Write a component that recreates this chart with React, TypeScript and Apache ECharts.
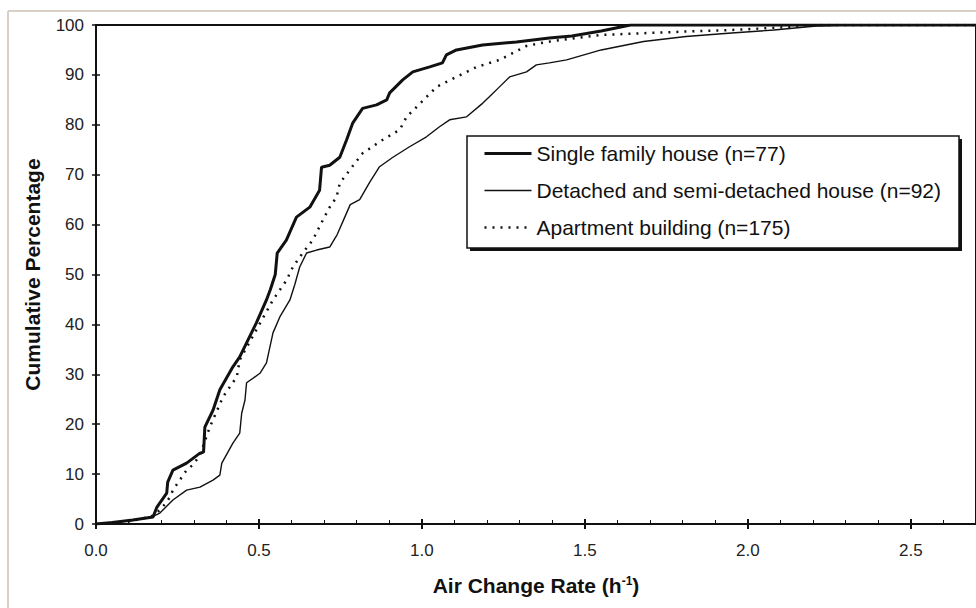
import React, { useEffect, useRef } from "react";
import * as echarts from "echarts";

const xTicks = [0, 0.5, 1.0, 1.5, 2.0, 2.5];
const yTicks = [0, 10, 20, 30, 40, 50, 60, 70, 80, 90, 100];

const seriesNames = [
  "Single family house (n=77)",
  "Detached and semi-detached house (n=92)",
  "Apartment building (n=175)",
];

const singleX = [0, 0.05, 0.113, 0.175, 0.187, 0.217, 0.22, 0.236, 0.278, 0.319, 0.33, 0.334, 0.359, 0.38, 0.42, 0.441, 0.462, 0.492, 0.523, 0.535, 0.55, 0.556, 0.584, 0.615, 0.656, 0.686, 0.692, 0.717, 0.748, 0.769, 0.788, 0.818, 0.861, 0.892, 0.901, 0.941, 0.972, 1.024, 1.063, 1.075, 1.106, 1.186, 1.29, 1.391, 1.46, 1.55, 1.64, 2.7];
const singleY = [0, 0.3, 0.8, 1.4, 3.4, 6.2, 8.4, 10.8, 12.2, 14.2, 14.4, 19.4, 22.8, 26.9, 31.5, 33.5, 36.3, 40.3, 44.9, 47, 50, 54.3, 56.9, 61.5, 63.5, 66.9, 71.5, 71.9, 73.5, 77, 80.4, 83.3, 84, 85, 86.4, 89, 90.6, 91.6, 92.4, 94, 95, 96, 96.6, 97.4, 97.8, 98.8, 100, 100];

const detachedX = [0, 0.1, 0.17, 0.196, 0.236, 0.278, 0.319, 0.359, 0.38, 0.386, 0.42, 0.441, 0.447, 0.457, 0.462, 0.503, 0.523, 0.543, 0.564, 0.595, 0.61, 0.625, 0.646, 0.677, 0.717, 0.74, 0.76, 0.78, 0.809, 0.84, 0.87, 0.911, 0.962, 1.014, 1.054, 1.085, 1.137, 1.186, 1.207, 1.238, 1.269, 1.321, 1.351, 1.391, 1.444, 1.55, 1.68, 1.81, 1.95, 2.08, 2.21, 2.3, 2.7];
const detachedY = [0, 0.6, 1.4, 2.2, 4.8, 6.8, 7.4, 8.8, 9.8, 12.2, 16.2, 18.2, 22.2, 24.8, 28.3, 30.2, 32.3, 38.3, 41.5, 44.9, 48, 51.5, 54.3, 54.9, 55.5, 58, 61, 64, 65, 68.5, 71.6, 73.5, 75.6, 77.6, 79.6, 81, 81.6, 84.3, 85.6, 87.6, 89.6, 90.6, 92, 92.4, 93, 95, 96.7, 97.7, 98.4, 99, 99.8, 100, 100];

const apartmentX = [0, 0.1, 0.17, 0.2, 0.227, 0.236, 0.278, 0.3, 0.32, 0.349, 0.39, 0.432, 0.441, 0.497, 0.543, 0.585, 0.604, 0.634, 0.665, 0.696, 0.717, 0.738, 0.748, 0.778, 0.818, 0.88, 0.932, 0.953, 0.984, 1.045, 1.106, 1.168, 1.238, 1.321, 1.382, 1.45, 1.55, 1.81, 1.95, 2.1, 2.21, 2.7];
const apartmentY = [0, 0.5, 1.5, 3, 5.4, 6.8, 10.8, 12, 14, 19.4, 25.5, 29.5, 32.9, 39.5, 44.9, 48.9, 51.5, 54.3, 56.9, 60.9, 63.5, 65.5, 68.3, 70.9, 74.3, 77, 79, 81.6, 83.6, 87.6, 89.6, 91.6, 93, 95.8, 96.6, 97.2, 98, 98.7, 99, 99.5, 100, 100];

const FONT = "'Liberation Sans', Arial, Helvetica, sans-serif";

function pairs(xs: number[], ys: number[]) {
  return xs.map((x, i) => [x, ys[i]]);
}

export default function App() {
  const ref = useRef<HTMLDivElement>(null);
  useEffect(() => {
    if (!ref.current) return;
    const chart = echarts.init(ref.current, undefined, { renderer: "svg" });
    const xFmt = (v: number) =>
      xTicks.some((t) => Math.abs(t - v) < 1e-6) ? v.toFixed(1) : "";
    const yFmt = (v: number) =>
      yTicks.some((t) => Math.abs(t - v) < 1e-6) ? String(v) : "";
    chart.setOption({
      animation: false,
      backgroundColor: "#ffffff",
      textStyle: { fontFamily: FONT },
      grid: {
        left: 96,
        top: 25,
        right: 0,
        bottom: 84,
        show: true,
        borderColor: "#111",
        borderWidth: 2,
        backgroundColor: "#fff",
      },
      xAxis: [
        {
          type: "value",
          min: 0,
          max: 2.7,
          interval: 0.5,
          position: "bottom",
          axisLine: { show: true, lineStyle: { color: "#111", width: 2 } },
          axisTick: { show: true, inside: false, length: 5, lineStyle: { color: "#111", width: 2 } },
          minorTick: { show: false },
          splitLine: { show: false },
          axisLabel: {
            formatter: xFmt,
            fontSize: 17,
            color: "#222",
            margin: 18,
            fontFamily: FONT,
            showMaxLabel: false,
          },
          name: "{a|Air Change Rate (h}{s|-1}{a|)}",
          nameLocation: "middle",
          nameGap: 51,
          nameTextStyle: {
            rich: {
              a: { fontSize: 21, fontWeight: "bold", color: "#111", fontFamily: FONT },
              s: { fontSize: 12, fontWeight: "bold", color: "#111", fontFamily: FONT, verticalAlign: "top" },
            },
          },
        },
        {
          type: "value",
          min: 0,
          max: 2.7,
          interval: 0.5,
          position: "bottom",
          axisLine: { show: false },
          axisTick: { show: true, inside: true, length: 5, lineStyle: { color: "#111", width: 2 } },
          minorTick: { show: true, splitNumber: 5, length: 4, lineStyle: { color: "#111", width: 1 } },
          splitLine: { show: false },
          axisLabel: { show: false },
        },
      ],
      yAxis: [
        {
          type: "value",
          min: 0,
          max: 100,
          interval: 10,
          position: "left",
          axisLine: { show: true, lineStyle: { color: "#111", width: 2 } },
          axisTick: { show: true, inside: false, length: 4, lineStyle: { color: "#111", width: 1.5 } },
          splitLine: { show: false },
          axisLabel: { formatter: yFmt, fontSize: 17, color: "#222", margin: 12, fontFamily: FONT },
          name: "Cumulative Percentage",
          nameLocation: "middle",
          nameGap: 53,
          nameTextStyle: { fontSize: 21, fontWeight: "bold", color: "#111", fontFamily: FONT },
        },
        {
          type: "value",
          min: 0,
          max: 100,
          interval: 10,
          position: "left",
          axisLine: { show: false },
          axisTick: { show: true, inside: true, length: 4, lineStyle: { color: "#111", width: 1.5 } },
          splitLine: { show: false },
          axisLabel: { show: false },
        },
      ],
      legend: {
        orient: "vertical",
        left: 483,
        top: 143,
        padding: 0,
        itemWidth: 47,
        itemHeight: 14,
        itemGap: 16,
        z: 10,
        data: seriesNames,
        textStyle: { fontSize: 21, color: "#111", fontFamily: FONT },
        itemStyle: { color: "rgba(0,0,0,0)", borderWidth: 0, opacity: 0 },
        lineStyle: { width: "inherit" },
      },
      graphic: [
        { type: "line", z: 1, shape: { x1: 8, y1: 11, x2: 976, y2: 11 }, style: { stroke: "#d8cfc6", lineWidth: 2 } },
        { type: "line", z: 1, shape: { x1: 8, y1: 11, x2: 8, y2: 608 }, style: { stroke: "#d8cfc6", lineWidth: 2 } },
        { type: "rect", z: 5, shape: { x: 470, y: 139, width: 492, height: 112 }, style: { fill: "#111" } },
        { type: "rect", z: 6, shape: { x: 467, y: 136, width: 492, height: 112 }, style: { fill: "#fff", stroke: "#111", lineWidth: 1.5 } },
      ],
      series: [
        {
          name: seriesNames[0],
          type: "line",
          xAxisIndex: 0,
          yAxisIndex: 0,
          showSymbol: false,
          symbol: "none",
          data: pairs(singleX, singleY),
          lineStyle: { color: "#111", width: 3 },
          itemStyle: { color: "#111" },
        },
        {
          name: seriesNames[1],
          type: "line",
          xAxisIndex: 0,
          yAxisIndex: 0,
          showSymbol: false,
          symbol: "none",
          data: pairs(detachedX, detachedY),
          lineStyle: { color: "#111", width: 1.4 },
          itemStyle: { color: "#111" },
        },
        {
          name: seriesNames[2],
          type: "line",
          xAxisIndex: 0,
          yAxisIndex: 0,
          showSymbol: false,
          symbol: "none",
          data: pairs(apartmentX, apartmentY),
          lineStyle: { color: "#111", width: 2.5, type: [2, 6], cap: "butt" },
          itemStyle: { color: "#111" },
        },
      ],
    });
    return () => chart.dispose();
  }, []);
  return (
    <div
      ref={ref}
      style={{ position: "fixed", left: 0, top: 0, width: 976, height: 608, background: "#fff" }}
    />
  );
}
